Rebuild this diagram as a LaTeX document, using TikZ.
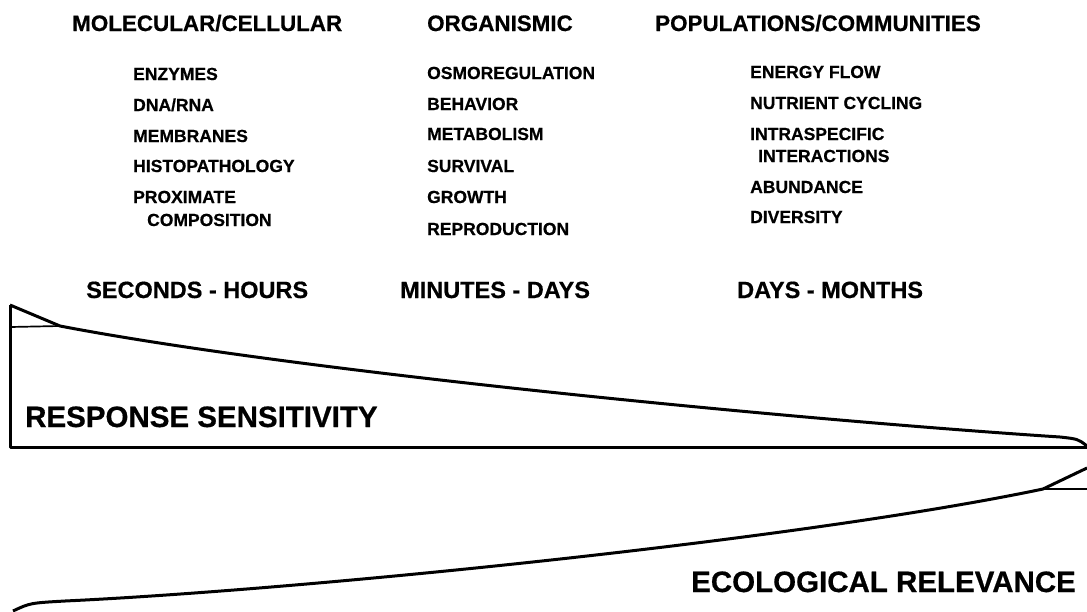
\documentclass[tikz,border=0pt]{standalone}
\usepackage{fontspec}
\setmainfont{Liberation Sans}[BoldFeatures={FakeBold=0.6}]
\tikzset{
  head/.style={anchor=base west,inner sep=0pt,font=\bfseries\fontsize{22.4}{26}\selectfont},
  item/.style={anchor=base west,inner sep=0pt,font=\bfseries\fontsize{17.5}{20}\selectfont},
  span/.style={anchor=base west,inner sep=0pt,font=\bfseries\fontsize{23.5}{27}\selectfont},
  title/.style={inner sep=0pt,font=\bfseries\fontsize{29.5}{35}\selectfont},
  wedge/.style={line width=3pt,line join=round},
  thin/.style={line width=1.7pt}
}
\begin{document}
\begin{tikzpicture}[x=1pt,y=-1pt]
\useasboundingbox (0,0) rectangle (1087,611);
% levels of organisation
\node[head] (mol) at (72,31) {MOLECULAR/CELLULAR};
\node[head] (org) at (427,31) {ORGANISMIC};
\node[head] (pop) at (655,31) {POPULATIONS/COMMUNITIES};
% responses
\node[item] (enz) at (133,80) {ENZYMES};
\node[item] (dna) at (133,111) {DNA/RNA};
\node[item] (mem) at (133,142) {MEMBRANES};
\node[item] (his) at (133,172) {HISTOPATHOLOGY};
\node[item] (prox) at (133,203) {PROXIMATE};
\node[item] (comp) at (147,226) {COMPOSITION};
\node[item] (osm) at (427,79) {OSMOREGULATION};
\node[item] (beh) at (427,110) {BEHAVIOR};
\node[item] (met) at (427,140) {METABOLISM};
\node[item] (sur) at (427,172) {SURVIVAL};
\node[item] (gro) at (427,203) {GROWTH};
\node[item] (rep) at (427,235) {REPRODUCTION};
\node[item] (ene) at (750,78) {ENERGY FLOW};
\node[item] (nut) at (750,109) {NUTRIENT CYCLING};
\node[item] (intra) at (750,140) {INTRASPECIFIC};
\node[item] (inter) at (758,162) {INTERACTIONS};
\node[item] (abu) at (750,193) {ABUNDANCE};
\node[item] (div) at (750,223) {DIVERSITY};
% time scales
\node[span] (sec) at (86,298) {SECONDS - HOURS};
\node[span] (min) at (400,298) {MINUTES - DAYS};
\node[span] (day) at (737,298) {DAYS - MONTHS};
% response sensitivity wedge
\coordinate (A) at (10,305);
\coordinate (B) at (60,326);
\coordinate (C) at (1087,446);
\coordinate (D) at (10,447);
\draw[wedge] (A) -- (B) .. controls (300,372) and (800,420) .. (1060,437) .. controls (1078,439) .. (C);
\draw[wedge] (A) -- (D) -- (1087,447);
\draw[thin] (10,327) -- (B);
\node[title,anchor=base west] (resp) at (25,427) {RESPONSE SENSITIVITY};
% ecological relevance wedge
\coordinate (E) at (1087,468);
\coordinate (F) at (1043,489);
\coordinate (G) at (13,611);
\draw[wedge] (E) -- (F) .. controls (800,540) and (300,590) .. (65,601) .. controls (30,603) .. (G);
\draw[thin] (F) -- (1087,489);
\node[title,anchor=base east] (eco) at (1076,592) {ECOLOGICAL RELEVANCE};
\end{tikzpicture}
\end{document}
